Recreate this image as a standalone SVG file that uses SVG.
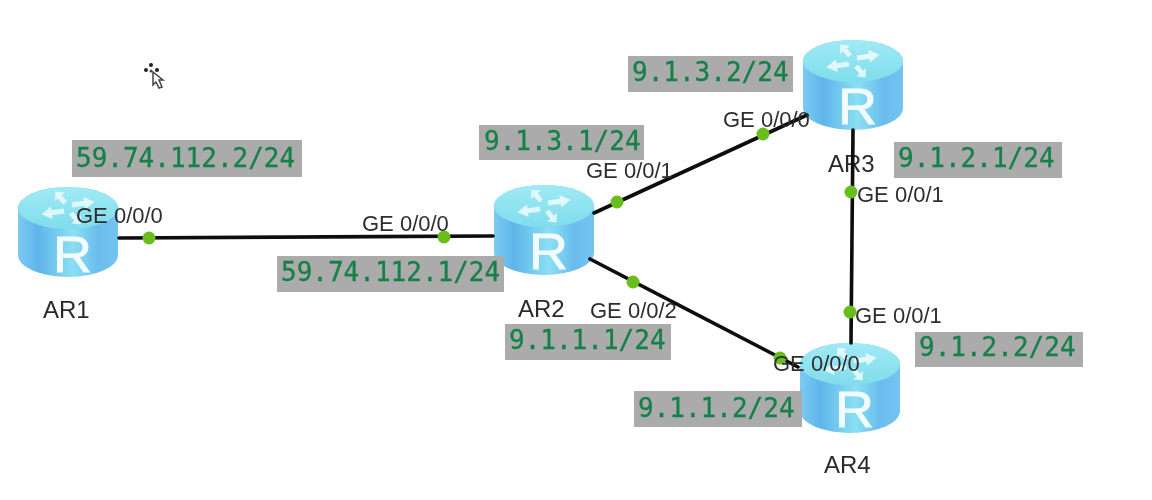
<svg xmlns="http://www.w3.org/2000/svg" width="1152" height="500" viewBox="0 0 1152 500">
<style>
.ip{fill:#ababab}
.ipt{font:26px "DejaVu Sans Mono","Liberation Mono",monospace;fill:#16804a;stroke:#16804a;stroke-width:.3}
.port{font:22px "Liberation Sans",Arial,sans-serif;fill:#2e2e2e}
.name{font:24px "Liberation Sans",Arial,sans-serif;fill:#2a2a2a}
.r{font:50px "Liberation Sans",Arial,sans-serif;fill:#f2fcff;stroke:#f2fcff;stroke-width:.8}
.link{stroke:#0a0a0a;stroke-width:3.6;fill:none;stroke-linecap:round}
.dot{fill:#69bd1f}
</style>
<defs>
<filter id="soft" x="-5%" y="-5%" width="110%" height="110%"><feGaussianBlur stdDeviation="0.55"/></filter>
<linearGradient id="side" x1="0" x2="1" y1="0" y2="0">
<stop offset="0" stop-color="#7ccbf3"/><stop offset=".2" stop-color="#5fb5ea"/><stop offset=".55" stop-color="#8adff3"/><stop offset=".8" stop-color="#6abdee"/><stop offset="1" stop-color="#74c4f0"/>
</linearGradient>
<linearGradient id="top" x1="0" x2="0" y1="0" y2="1">
<stop offset="0" stop-color="#a0eaf5"/><stop offset="1" stop-color="#80dcec"/>
</linearGradient>
<g id="arrow"><path d="M0,-3.5 L-13,-3.5 L-13,-9 L-24,0 L-13,9 L-13,3.5 L0,3.5Z" fill="#fff" fill-opacity=".72"/></g>
<g id="router">
<path d="M-50,21 A50,21 0 0 1 50,21 V68 A50,22 0 0 1 -50,68Z" fill="url(#side)"/>
<ellipse cx="0" cy="21" rx="50" ry="21" fill="url(#top)"/>
<use href="#arrow" transform="translate(-4,24) rotate(-8) scale(.95,.7)"/>
<use href="#arrow" transform="translate(4,18) rotate(172) scale(.95,.7)"/>
<use href="#arrow" transform="translate(-3,16) rotate(50) scale(.62,.72)"/>
<use href="#arrow" transform="translate(3,26) rotate(230) scale(.62,.72)"/>
</g>
</defs>
<rect width="1152" height="500" fill="#fff"/>
<g filter="url(#soft)">
<g id="cursor">
<path d="M153,72 L153,85 L156,82 L159,88 L162,87 L159,80 L163,80Z" fill="#fff" stroke="#444" stroke-width="1.5"/>
<circle cx="151" cy="65" r="2" fill="#222"/><circle cx="146" cy="70" r="2" fill="#222"/><circle cx="157" cy="70" r="2" fill="#222"/><circle cx="151" cy="71" r="1.5" fill="#444"/>
</g>
<g id="AR1"><use href="#router" x="68" y="187"/><text class="r" x="53" y="272" textLength="39" lengthAdjust="spacingAndGlyphs">R</text><text class="name" x="43" y="318">AR1</text></g>
<g id="AR2"><use href="#router" x="544" y="185"/><text class="r" x="529" y="269" textLength="39" lengthAdjust="spacingAndGlyphs">R</text><text class="name" x="518" y="317">AR2</text></g>
<g id="AR3"><use href="#router" x="853" y="40"/><text class="r" x="838" y="124" textLength="39" lengthAdjust="spacingAndGlyphs">R</text><text class="name" x="828" y="172">AR3</text></g>
<g id="AR4"><use href="#router" x="850" y="343"/><text class="r" x="835" y="427" textLength="39" lengthAdjust="spacingAndGlyphs">R</text><text class="name" x="824" y="473">AR4</text></g>
<g id="connectors">
<path class="link" d="M119,238 L493,236"/>
<path class="link" d="M594,213 L807,115"/>
<path class="link" d="M590,259 L798,367"/>
<path class="link" d="M853,130 L851,343"/>
<circle class="dot" cx="149" cy="238" r="6.5"/><circle class="dot" cx="444" cy="237" r="6.5"/>
<circle class="dot" cx="617" cy="202" r="6.5"/><circle class="dot" cx="763" cy="134" r="6.5"/>
<circle class="dot" cx="633" cy="282" r="6.5"/><circle class="dot" cx="780" cy="358" r="6.5"/>
<circle class="dot" cx="851" cy="192" r="6.5"/><circle class="dot" cx="850" cy="312" r="6.5"/>
</g>
<g id="port-labels">
<text class="port" x="76" y="223">GE 0/0/0</text>
<text class="port" x="362" y="231">GE 0/0/0</text>
<text class="port" x="586" y="178">GE 0/0/1</text>
<text class="port" x="590" y="318">GE 0/0/2</text>
<text class="port" x="723" y="127">GE 0/0/0</text>
<text class="port" x="857" y="202">GE 0/0/1</text>
<text class="port" x="855" y="323">GE 0/0/1</text>
<text class="port" x="773" y="371">GE 0/0/0</text>
</g>
<g id="ip-labels">
<rect class="ip" x="72" y="140" width="230" height="37"/><text class="ipt" x="76" y="167">59.74.112.2/24</text>
<rect class="ip" x="277" y="256" width="227" height="36"/><text class="ipt" x="281" y="281">59.74.112.1/24</text>
<rect class="ip" x="479" y="125" width="165" height="35"/><text class="ipt" x="484" y="150">9.1.3.1/24</text>
<rect class="ip" x="628" y="56" width="165" height="36"/><text class="ipt" x="632" y="81">9.1.3.2/24</text>
<rect class="ip" x="894" y="142" width="168" height="36"/><text class="ipt" x="898" y="167">9.1.2.1/24</text>
<rect class="ip" x="915" y="332" width="168" height="35"/><text class="ipt" x="919" y="356">9.1.2.2/24</text>
<rect class="ip" x="505" y="324" width="166" height="36"/><text class="ipt" x="509" y="349">9.1.1.1/24</text>
<rect class="ip" x="634" y="391" width="168" height="36"/><text class="ipt" x="638" y="417">9.1.1.2/24</text>
</g>
</g>
</svg>
